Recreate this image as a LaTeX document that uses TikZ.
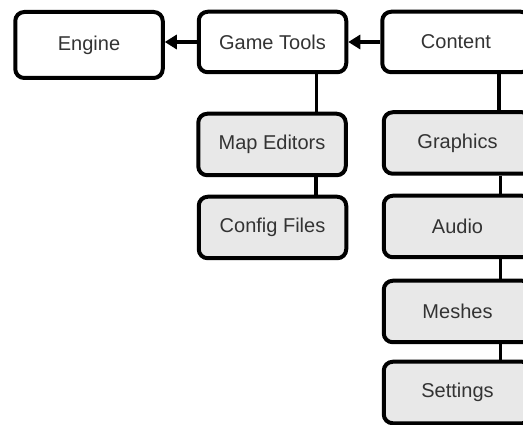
\documentclass[tikz,border=0pt]{standalone}
\usepackage{fontspec}
\setmainfont{Liberation Sans}
\usetikzlibrary{arrows.meta, positioning, calc}

\begin{document}
\begin{tikzpicture}[x=1pt, y=-1pt, font=\fontsize{20}{24}\selectfont,
    box/.style={draw, line width=4pt, rounded corners=9pt, fill=white, text=black!80,
        minimum width=147.5pt, minimum height=60.5pt, inner sep=0pt},
    subbox/.style={box, fill=black!9, minimum height=61.5pt},
    link/.style={line width=3.2pt},
    feed/.style={line width=3.2pt, -{Triangle[length=12pt,width=14pt]}}]
    \useasboundingbox (0,0) rectangle (523,425);
    \clip (0,0) rectangle (523,425);
    % top row
    \node[box, minimum height=66pt] (engine) at (89,45) {Engine};
    \node[box] (gtools) at (272.5,42) {Game Tools};
    \node[box] (content) at (456,42) {Content};
    % tool parts
    \node[subbox] (maped) at (272,144.5) {Map Editors};
    \node[subbox] (config) at (272.5,227.5) {Config Files};
    % content parts
    \node[subbox] (graphics) at (457.5,143) {Graphics};
    \node[subbox] (audio) at (457.5,226.5) {Audio};
    \node[subbox] (meshes) at (457.5,311.5) {Meshes};
    \node[subbox] (settings) at (457.5,392.5) {Settings};
    % arrows
    \draw[feed] (gtools.west) -- (engine.east |- gtools.west);
    \draw[feed] (content.west) -- (gtools.east);
    % links
    \draw[link] ([xshift=44pt]gtools.south) -- ([xshift=44pt]gtools.south |- maped.north);
    \draw[link] ([xshift=44pt]maped.south) -- ([xshift=44pt]maped.south |- config.north);
    \draw[link] ([xshift=43pt]content.south) -- ([xshift=43pt]content.south |- graphics.north);
    \draw[link] ([xshift=43pt]graphics.south) -- ([xshift=43pt]graphics.south |- audio.north);
    \draw[link] ([xshift=43pt]audio.south) -- ([xshift=43pt]audio.south |- meshes.north);
    \draw[link] ([xshift=43pt]meshes.south) -- ([xshift=43pt]meshes.south |- settings.north);
\end{tikzpicture}
\end{document}
